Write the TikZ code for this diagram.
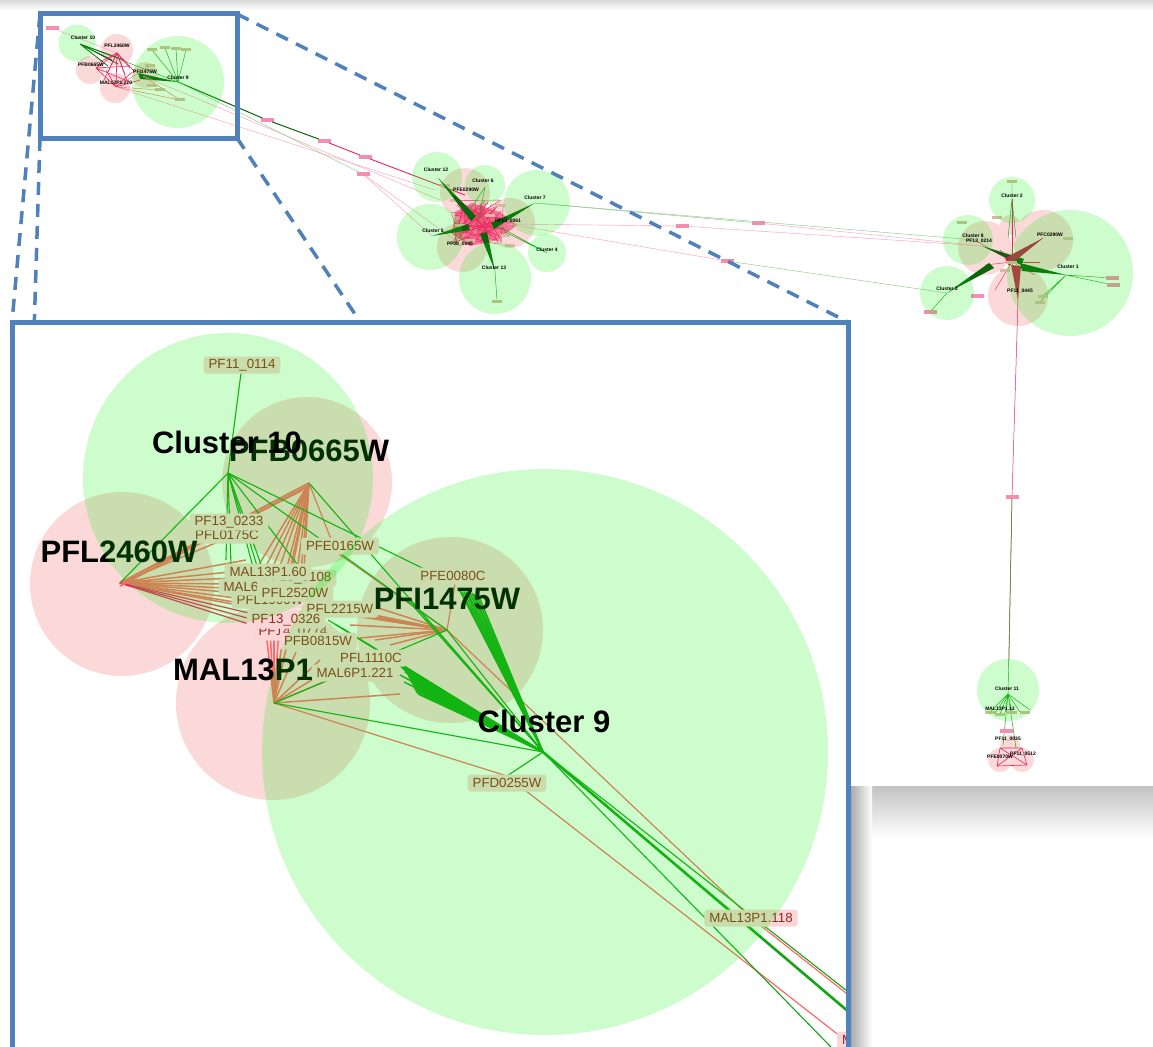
\documentclass[tikz,border=0pt]{standalone}
\usepackage{fontspec}
\setmainfont{Liberation Sans}
\usetikzlibrary{calc}
\definecolor{frameblue}{RGB}{79,129,189}
\definecolor{pinkfill}{RGB}{252,217,217}
\definecolor{greenov}{RGB}{5,240,5}
\definecolor{redE}{RGB}{255,105,105}
\definecolor{hotE}{RGB}{236,38,92}
\definecolor{lpinkE}{RGB}{255,160,190}
\definecolor{grnE}{RGB}{20,165,20}
\definecolor{lgrnE}{RGB}{140,200,140}
\definecolor{dgrnE}{RGB}{10,100,10}
\definecolor{tagbg}{RGB}{252,214,214}
\definecolor{tagtx}{RGB}{150,40,30}
\definecolor{mtagbg}{RGB}{246,140,175}
\definecolor{ttagbg}{RGB}{215,185,160}
\begin{document}
\begin{tikzpicture}[x=1pt,y=-1pt,
  pinkc/.style={fill=pinkfill},
  greenc/.style={fill=greenov,fill opacity=0.2},
  redln/.style={draw=redE,line width=1.5pt},
  hotln/.style={draw=hotE,line width=1.2pt},
  grnln/.style={draw=grnE,line width=1.1pt},
  tag/.style={fill=tagbg,text=tagtx,rounded corners=3pt,inner xsep=5pt,inner ysep=0pt,minimum height=17pt,font=\fontsize{13.3}{13.3}\selectfont},
  big/.style={font=\bfseries\fontsize{31}{31}\selectfont,text=black,inner sep=0pt},
  small/.style={font=\bfseries\fontsize{5}{5}\selectfont,text=black,inner sep=0pt},
  mtag/.style={fill=mtagbg,minimum width=13pt,minimum height=3.5pt,inner sep=0pt},
  ttag/.style={fill=ttagbg,minimum width=10pt,minimum height=3pt,inner sep=0pt},
  oln/.style={line width=0.45pt},
  zoomline/.style={draw=frameblue,line width=3.5pt,dash pattern=on 13pt off 9pt},
]
\useasboundingbox (0,0) rectangle (1153,1046);
\fill[white] (0,0) rectangle (1153,1046);
\shade[top color=black!15,bottom color=white] (0,0) rectangle (1153,10);
\shade[top color=black!24,bottom color=white] (848,786) rectangle (1153,838);

% ================= OVERVIEW =================
\foreach \x/\y/\r in {117/50/16,90/70/14,115/88/15,145/75/13,
  465/193/25,510/223/25,462/247/25,478/222/16,
  1010/225/10,985/248/27,1043/240/30,1018/296/30,
  1010/745/10,1000/760/12,1022/760/12}
  \fill[pinkc] (\x,\y) circle[radius=\r pt];

\coordinate (o10) at (80,44);
\coordinate (oPFL) at (117,53);
\coordinate (oPFB) at (96,68);
\coordinate (oMAL) at (116,87);
\coordinate (oPFI) at (143,76);
\coordinate (o9) at (178,82);
\coordinate (o12) at (438,178);
\coordinate (o6) at (485,187);
\coordinate (o7) at (535,203);
\coordinate (o5) at (432,236);
\coordinate (o4) at (547,253);
\coordinate (o13) at (495,271);
\coordinate (oPFC) at (465,195);
\coordinate (o61) at (508,224);
\coordinate (o45) at (462,245);
\coordinate (ocen) at (478,222);
\coordinate (o2) at (1012,199);
\coordinate (o8) at (975,240);
\coordinate (o214) at (982,246);
\coordinate (o290) at (1043,238);
\coordinate (o1) at (1066,275);
\coordinate (o3) at (947,293);
\coordinate (o445) at (1018,300);
\coordinate (orc) at (1012,262);
\coordinate (o11) at (1008,694);

% mini tags
\node[mtag] (m0) at (52,28) {};
\node[mtag] (m1) at (267,120) {};
\node[mtag] (m2) at (324,141) {};
\node[mtag] (m3) at (365,157) {};
\node[mtag] (m4) at (363,174) {};
\node[mtag] (m5) at (758,223) {};
\node[mtag] (m6) at (682,226) {};
\node[mtag] (m7) at (727,261) {};
\node[mtag] (m8) at (1012,497) {};
\node[mtag] (m9) at (1112,278) {};
\node[mtag] (m10) at (1113,285) {};
\node[ttag] (m11) at (497,301) {};
\node[ttag] (m12) at (1012,181) {};
\node[mtag] (m13) at (930,312) {};

% top-left edges
\draw[lpinkE,oln] (m0) -- (oPFL);
\draw[grnE,oln] (o10) -- (o9);
\draw[dgrnE,line width=0.8pt] (o10) -- (112,60) (o10) -- (118,64) (o10) -- (124,60) (o10) -- (108,66);
\foreach \p in {(100,62),(108,72),(125,75),(130,68),(135,72),(104,80),(128,84)}
  \draw[hotE,line width=0.6pt] (oPFL) -- \p;
\draw[hotE,line width=0.6pt] (oPFL) -- (oPFB) (oPFL) -- (oMAL) (oPFB) -- (oMAL) (oPFB) -- (125,80) (oPFB) -- (130,66) (oMAL) -- (132,72) (oMAL) -- (106,70) (oMAL) -- (140,80);
\fill[dgrnE] (138,73) -- (o9) -- (140,79) -- cycle;
\foreach \p in {(152,50),(165,48),(176,49),(186,50)} \draw[grnE,oln] (o9) -- \p;
\draw[redE,oln] (oMAL) -- (180,100) (oPFI) -- (180,100) (oMAL) -- (150,66) (oMAL) -- (160,90);
\foreach \p in {(152,50),(165,48),(176,49),(186,50),(180,100),(150,66),(152,86),(160,90)}
  \node[ttag] at \p {};
% long lines
\draw[dgrnE,line width=1pt] (o9) -- (m1) -- (m2);
\draw[hotE,line width=0.9pt] (m2) -- (m3) -- (oPFC);
\draw[lpinkE,oln] (oMAL) -- (435,190);
\draw[lpinkE,oln] (oPFI) -- (440,200);
\draw[lgrnE,oln] (o9) -- (m4);
\draw[lpinkE,oln] (m4) -- (o5);
\draw[lpinkE,oln] (m4) -- (o45);
% middle cluster
\fill[hotE,opacity=0.55] (455,212) -- (472,203) -- (500,212) -- (517,225) -- (498,240) -- (470,246) -- (452,234) -- cycle;
\pgfmathsetseed{7}
\foreach \i in {1,...,70}{
  \draw[hotE,line width=0.4pt] ({478+28*rand},{222+22*rand}) -- ({478+28*rand},{222+22*rand});
}
\foreach \p in {(445,185),(455,200),(500,205),(505,235),(470,240),(490,215),(460,225),(510,245)}
  \node[ttag] at \p {};
\fill[dgrnE] (o12) -- (471,221) -- (476,216) -- cycle;
\fill[dgrnE] (o13) -- (480,234) -- (487,232) -- cycle;
\fill[dgrnE] (o5) -- (468,224) -- (470,230) -- cycle;
\fill[dgrnE] (o7) -- (491,223) -- (494,229) -- cycle;
\draw[grnE,oln] (o6) -- (ocen) (o6) -- (470,210) (o4) -- (505,232) (o4) -- (498,226) (o13) -- (m11);
% middle to right
\draw[lgrnE,oln] (o7) -- (m5);
\draw[lpinkE,oln] (m5) -- (o214);
\draw[lgrnE,oln] (o7) -- (o8);
\draw[lpinkE,oln] (o61) -- (m6) -- (o214);
\draw[lpinkE,oln] (o61) -- (m7);
\draw[lgrnE,oln] (m7) -- (o3);
% right cluster
\draw[grnE,oln] (o2) -- (m12) (o2) -- (1008,238) (o2) -- (1012,240) (o2) -- (1016,238);
\foreach \p in {(o2),(o8),(o290),(o445),(995,290),(1040,262),(985,265),(1035,275),(1000,250),(1025,250)}
  \draw[hotE,line width=0.4pt] (orc) -- \p;
\fill[dgrnE] (o214) -- (1024,259) -- (1021,265) -- cycle;
\fill[hotE!80!black] (o290) -- (1005,258) -- (1009,266) -- cycle;
\fill[dgrnE] (o1) -- (1020,263) -- (1022,271) -- cycle;
\fill[hotE!85!black] (o445) -- (1011,265) -- (1021,266) -- cycle;
\fill[dgrnE] (o3) -- (989,263) -- (994,268) -- cycle;
\draw[grnE,oln] (o3) -- (m13);
\draw[grnE,oln] (o1) -- (m9) (o1) -- (m10) (o1) -- (1043,296) (o1) -- (1040,302);
\foreach \p in {(962,222),(997,217),(1068,238),(1043,296),(1040,302),(1012,262),(1005,270)}
  \node[ttag] at \p {};
\node[mtag] at (977,296) {};
\draw[hotE,line width=0.5pt] (o445) -- (m8);
\draw[hotE,line width=0.5pt] (m8) -- (1009,660);
\draw[grnE,oln] (m8) -- (o11);
% bottom cluster
\foreach \p in {(990,712),(995,713),(1000,714),(1005,713),(1012,712),(1020,712),(1030,710),(1003,745),(1016,748)}
  \draw[grnE,line width=0.5pt] (o11) -- \p;
\foreach \p in {(990,712),(1000,714),(1012,712),(1025,712)} \node[ttag] at \p {};
\draw[hotE,line width=0.6pt] (1000,748) -- (1022,748) -- (1027,765) -- (997,766) -- cycle (1000,748) -- (1027,765) (1022,748) -- (997,766);
\node[mtag] at (1006,731) {};

% green overlays
\foreach \x/\y/\r in {77/43/18.5,178/82/46,437/177/25,485/185/20,537/203/33,430/237/33,547/253/19,495/278/36,1012/200/23,968/240/25,947/293/27,1070/273/63,1008/690/31}
  \fill[greenc] (\x,\y) circle[radius=\r pt];

% overview labels
\node[small] (n10) at (83,38) {Cluster 10};
\node[small] (nPFL) at (117,46) {PFL2460W};
\node[small] (nPFB) at (91,65) {PFB0665W};
\node[small] (nMAL) at (116,83) {MAL13P1.270};
\node[small] (nPFI) at (145,72) {PFI1475W};
\node[small] (n9) at (178,78) {Cluster 9};
\node[small] (n12) at (436,170) {Cluster 12};
\node[small] (n6) at (483,181) {Cluster 6};
\node[small] (nPFC) at (466,190) {PFE0290W};
\node[small] (n7) at (535,198) {Cluster 7};
\node[small] (n61) at (508,221) {PF13\_0061};
\node[small] (n5) at (433,231) {Cluster 5};
\node[small] (n45) at (460,244) {PF08\_0045};
\node[small] (n4) at (547,250) {Cluster 4};
\node[small] (n13) at (494,268) {Cluster 13};
\node[small] (n2) at (1012,196) {Cluster 2};
\node[small] (n8) at (973,236) {Cluster 8};
\node[small] (n214) at (979,241) {PF13\_0214};
\node[small] (n290) at (1050,235) {PFC0290W};
\node[small] (n1) at (1068,267) {Cluster 1};
\node[small] (n3) at (947,289) {Cluster 3};
\node[small] (n445) at (1020,291) {PF11\_0445};
\node[small] (n11) at (1007,689) {Cluster 11};
\node[small] (nM13) at (1000,709) {MAL13P1.13};
\node[small] (n35) at (1008,739) {PF11\_0035};
\node[small] (n512) at (1023,754) {PF11\_0512};
\node[small] (n70) at (1000,757) {PFE0070W};

% ================= ZOOM CALLOUT =================
\coordinate (sTL) at (40,14); \coordinate (sTR) at (237,14);
\coordinate (sBL) at (40,138); \coordinate (sBR) at (237,138);
\coordinate (iTL) at (12,322); \coordinate (iTR) at (848,322);
\coordinate (iBL) at (12,1050); \coordinate (iBR) at (848,1050);
\draw[zoomline] (sTL) -- (iTL);
\draw[zoomline] (sTR) -- (iTR);
\draw[zoomline] (sBL) -- (iBL);
\draw[zoomline] (sBR) -- (iBR);
\draw[frameblue,line width=5pt] (sTL) rectangle (sBR);
\shade[left color=black!35,right color=white] (850,786) rectangle (872,1046);
\fill[white] (iTL) rectangle (iBR);

% ================= INSET =================
\begin{scope}
\clip (iTL) rectangle (iBR);
\fill[pinkc] (122,584) circle[radius=92pt];
\fill[pinkc] (307,482) circle[radius=85pt];
\fill[pinkc] (273,703) circle[radius=97pt];
\fill[pinkc] (450,630) circle[radius=93pt];

\coordinate (c10) at (228,473);
\coordinate (c9) at (543,752);
\coordinate (hPFL) at (120,583);
\coordinate (hPFB) at (309,483);
\coordinate (hMAL) at (274,703);
\coordinate (hPFI) at (447,630);
\coordinate (a114) at (241,373);
\coordinate (a165) at (336,552);
\coordinate (aE80) at (455,584);
\coordinate (a255) at (507,776);
\coordinate (a118) at (751,918);
\coordinate (aM) at (845,1040);
\coordinate (hB2) at (306,487);
\coordinate (hB3) at (303,490);
\coordinate (hL2) at (120,586);
\coordinate (out1) at (870,1087);
\coordinate (out2) at (870,1030);
\coordinate (out3) at (870,1009);
\coordinate (outR) at (870,1012);
\foreach \x/\y [count=\i] in {232/536,246/560,240/571,236/578,240/584,245/589,250/594,236/598,246/604,254/608}
  \coordinate (fL\i) at (\x,\y);
\foreach \x/\y [count=\i] in {262/616,258/621,252/625}
  \coordinate (fR\i) at (\x,\y);
\foreach \x/\y [count=\i] in {258/566,265/568,272/569,280/566,286/571,291/575,296/579,300/583,304/570,284/597}
  \coordinate (fB\i) at (\x,\y);
\foreach \x/\y [count=\i] in {226/560,231/565,253/567,258/569,263/570,300/568}
  \coordinate (fC\i) at (\x,\y);
\foreach \x/\y [count=\i] in {266/632,270/630,274/634,279/628,283/636,288/640,296/652,320/660,338/664,352/670,400/694}
  \coordinate (fM\i) at (\x,\y);
\foreach \x/\y [count=\i] in {328/608,335/612,345/614,355/616,365/613,372/606,380/618,350/625,360/638,375/640,390/645}
  \coordinate (fI\i) at (\x,\y);
\foreach \x/\y [count=\i] in {398/664,400/666,402/668,404/670,405/672,407/674,408/676,409/678,410/680,411/682,412/684,413/686,414/688,415/690,416/692,418/694,396/661,400/675,404/682}
  \coordinate (fA\i) at (\x,\y);
\foreach \x/\y [count=\i] in {460/591,462/592,464/592,466/592,468/593,470/593,472/593,474/594,476/594,478/594}
  \coordinate (fU\i) at (\x,\y);
\foreach \x/\y [count=\i] in {328/620,335/624,342/628,348/632,405/597,410/600}
  \coordinate (fW\i) at (\x,\y);

% salmon edges
\foreach \i in {1,...,10} \draw[redln] (hPFL) -- (fL\i);
\foreach \i in {1,...,3} \draw[hotln] (hPFL) -- (fR\i);
\draw[redln,line width=1.9pt] (hPFL) -- (hPFB);
\draw[redln,line width=1.9pt] (hL2) -- (hB2);
\draw[redln] (hPFL) -- (hB3);
\foreach \i in {1,...,10} \draw[redln] (hPFB) -- (fB\i);
\foreach \i in {1,...,11} \draw[redln] (hMAL) -- (fM\i);
\foreach \i in {1,...,11} \draw[redln] (hPFI) -- (fI\i);
\draw[redln,line width=1.2pt] (hPFI) -- (aE80);
\draw[redln,line width=1.2pt] (a165) -- (hPFI);
\draw[redln,line width=1.2pt] (hPFB) -- (a165);
\draw[redln,line width=1.2pt] (hMAL) -- (a255);
\draw[redln,line width=1.2pt] (hPFI) -- (a118);
\draw[redln,line width=1.2pt] (a118) -- (outR);
\draw[redln,line width=1.2pt] (a255) -- (aM);
% green edges
\draw[grnln] (c10) -- (a114);
\draw[grnln] (c10) -- (hPFL);
\foreach \i in {1,...,6} \draw[grnln] (c10) -- (fC\i);
\draw[grnln] (c10) -- (hPFI);
\draw[grnln] (c10) -- (aE80);
\draw[grnln] (hPFB) -- (c9);
\draw[grnln] (hMAL) -- (c9);
\draw[grnln] (hMAL) -- (hPFI);
\draw[grnln] (hPFI) -- (c9);
\foreach \i in {1,...,19} \draw[grnln,line width=1.4pt] (c9) -- (fA\i);
\foreach \i in {1,...,10} \draw[grnln,line width=1.4pt] (c9) -- (fU\i);
\foreach \i in {1,...,6} \draw[grnln] (c9) -- (fW\i);
\draw[grnln] (c9) -- (a255);
\draw[grnln] (c9) -- (out1);
\draw[grnln,line width=2.6pt] (c9) -- (out2);
\draw[grnln] (c9) -- (out3);

% gene labels
\node[tag] (l175) at (227,535) {PFL0175C};
\node[tag] (l233) at (229,522) {PF13\_0233};
\node[tag] (l114) at (242,365) {PF11\_0114};
\node[tag] (l165) at (340,546) {PFE0165W};
\node[tag] (lP19) at (270,600) {PFL1900W};
\node[tag] (lM6) at (262,587) {MAL6P1.208};
\node[tag] (l108) at (297,578) {PF10\_0108};
\node[tag] (l160) at (268,572) {MAL13P1.60};
\node[tag] (l2520) at (295,593) {PFL2520W};
\node[tag] (l2215) at (340,609) {PFL2215W};
\node[tag] (l774) at (293,632) {PF14\_0774};
\node[tag] (l326) at (286,620) {PF13\_0326};
\node[tag] (l815) at (318,641) {PFB0815W};
\node[tag] (l1110) at (371,658) {PFL1110C};
\node[tag] (l221) at (355,673) {MAL6P1.221};
\node[tag] (lE80) at (453,576) {PFE0080C};
\node[tag] (l255) at (507,783) {PFD0255W};
\node[tag] (l118) at (751,918) {MAL13P1.118};
\node[tag,anchor=west] (lM) at (837,1040) {MAL};

% hub labels
\node[big] (tPFB) at (309,451) {PFB0665W};
\node[big] (tPFL) at (119,552) {PFL2460W};
\node[big] (tPFI) at (447,599) {PFI1475W};
\node[big] (tMAL) at (243,670) {MAL13P1};

% cluster overlays
\fill[greenc] (228,478) circle[radius=145pt];
\fill[greenc] (545,752) circle[radius=283pt];
\node[big] (t10) at (227,442) {Cluster 10};
\node[big] (t9) at (544,721) {Cluster 9};
\end{scope}
\draw[frameblue,line width=5pt] (iTL) rectangle (iBR);
\end{tikzpicture}
\end{document}
